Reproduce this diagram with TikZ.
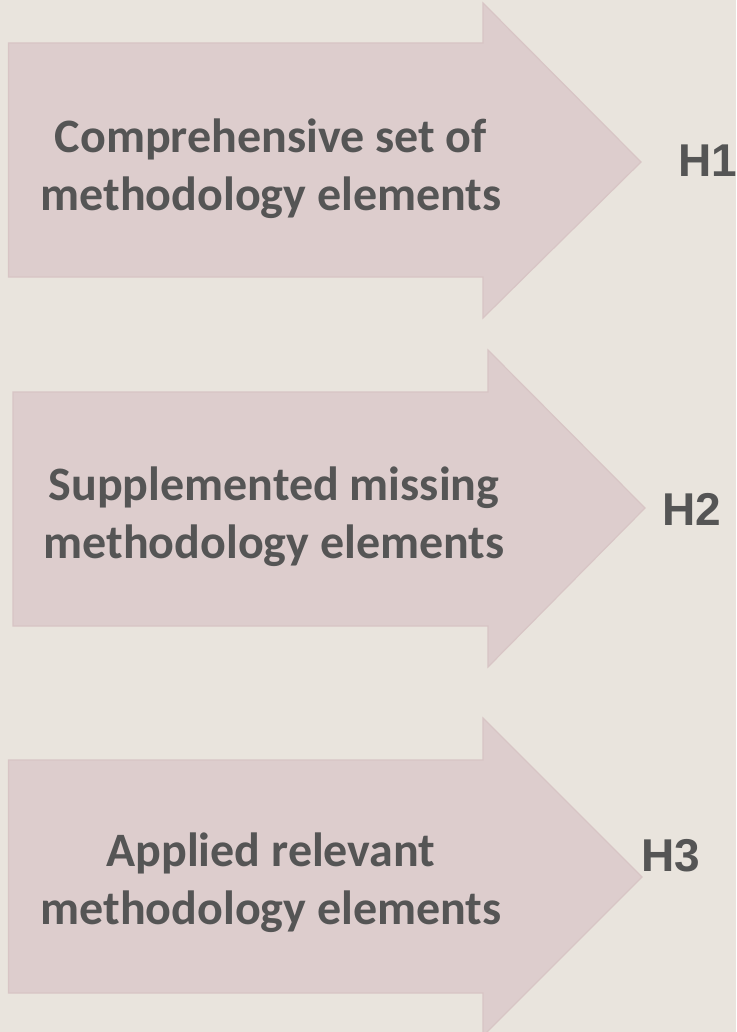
\documentclass[tikz,border=0pt]{standalone}
\usepackage{fontspec}
\setmainfont{Carlito}
\newfontfamily\hfont{Liberation Sans}
\definecolor{bg}{HTML}{E9E4DD}
\definecolor{arr}{HTML}{DDCDCD}
\definecolor{arredge}{HTML}{D8C5C5}
\definecolor{txt}{HTML}{555555}
\tikzset{
  bigarrow/.style={fill=arr, draw=arredge, line width=1.2pt, line join=miter},
  arrowtext/.style={text=txt, align=center, inner sep=0pt, font=\bfseries\fontsize{48}{58}\selectfont},
  hlabel/.style={text=txt, inner sep=0pt, anchor=base west, font=\hfont\bfseries\fontsize{46}{46}\selectfont}
}
\begin{document}
\begin{tikzpicture}[x=1pt,y=-1pt]
\fill[bg] (0,0) rectangle (736,1032);
\useasboundingbox (0,0) rectangle (736,1032);
\begin{scope}
\clip (0,0) rectangle (736,1032);
% arrow 1
\draw[bigarrow] (8.5,43) -- (483,43) -- (483,3) -- (641,162) -- (483,318) -- (483,277) -- (8.5,277) -- cycle;
% arrow 2
\draw[bigarrow] (13,392) -- (488,392) -- (488,350) -- (645,508) -- (488,667) -- (488,626) -- (13,626) -- cycle;
% arrow 3
\draw[bigarrow] (8.5,760) -- (483,760) -- (483,718) -- (642,877) -- (483,1036) -- (483,993) -- (8.5,993) -- cycle;
\end{scope}
\node[arrowtext] (t1) at (271,169) {Comprehensive set of\\methodology elements};
\node[arrowtext] (t2) at (274,517) {Supplemented missing\\methodology elements};
\node[arrowtext] (t3) at (271,883) {Applied relevant\\methodology elements};
\node[hlabel] (h1) at (678,177) {H1};
\node[hlabel] (h2) at (662,525) {H2};
\node[hlabel] (h3) at (641,871) {H3};
\end{tikzpicture}
\end{document}
